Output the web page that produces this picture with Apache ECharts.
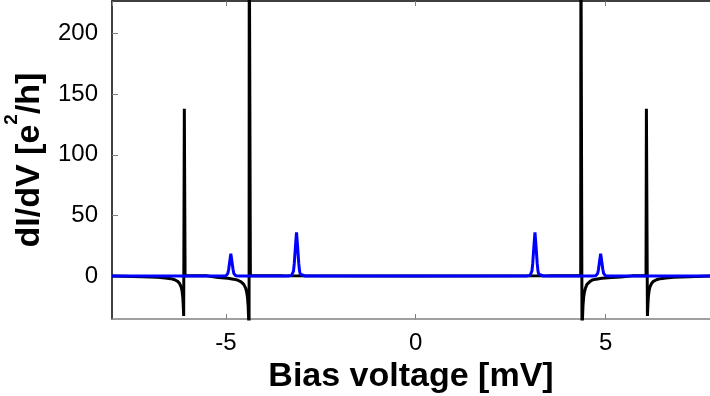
<!DOCTYPE html>
<html>
<head>
<meta charset="utf-8">
<script src="https://cdn.jsdelivr.net/npm/echarts@6/dist/echarts.min.js"></script>
<style>
html,body{margin:0;padding:0;background:#fff;overflow:hidden;}
#chart{width:710px;height:396px;}
</style>
</head>
<body>
<div id="chart"></div>
<script>
// Black curve (Fano-like spikes)
var blackX = [
  -8.0, -7.2, -6.8, -6.6, -6.45, -6.35, -6.27, -6.22, -6.18, -6.155, -6.135, -6.12, -6.112,
  -6.095, -6.085, -6.075, -6.0, -5.8, -5.5,
  -5.2, -4.95, -4.8, -4.7, -4.6, -4.53, -4.48, -4.45, -4.43, -4.415, -4.40, -4.39,
  -4.385, -4.36, -4.355, -4.2, -3.5,
  0.0,
  3.5, 4.2, 4.345, 4.35, 4.375,
  4.38, 4.39, 4.405, 4.42, 4.44, 4.47, 4.51, 4.58, 4.65, 4.75, 4.9, 5.15, 5.4,
  5.7, 5.95, 6.065, 6.075, 6.085,
  6.102, 6.11, 6.125, 6.145, 6.17, 6.21, 6.26, 6.34, 6.44, 6.59, 6.79, 7.19, 7.75
];
var blackY = [
  0, -0.7, -1.1, -1.6, -2.2, -3.1, -4.4, -6.2, -8.9, -12.3, -17.8, -26.7, -33,
  138, 138, 0.5, 0.3, 0.2, 0.1,
  -1.3, -1.9, -2.6, -3.3, -4.8, -6.9, -10, -13.8, -18.3, -24.4, -36.7, -60,
  300, 300, 0.5, 0.3, 0.1,
  0.0,
  0.1, 0.3, 0.5, 300, 300,
  -60, -36.7, -24.4, -18.3, -13.8, -10, -6.9, -4.8, -3.3, -2.6, -1.9, -1.3, -0.8,
  0.1, 0.3, 0.5, 138, 138,
  -33, -26.7, -17.8, -12.3, -8.9, -6.2, -4.4, -3.1, -2.2, -1.6, -1.1, -0.7, 0
];
// Blue curve (narrow peaks)
var blueX = [
  -8.0, -5.10, -5.00, -4.97, -4.95, -4.93, -4.91, -4.89, -4.87, -4.85, -4.83, -4.81, -4.79, -4.77, -4.74, -4.64,
  -3.36, -3.27, -3.24, -3.22, -3.20, -3.18, -3.16, -3.14, -3.12, -3.10, -3.08, -3.06, -3.04, -3.01, -2.92,
  2.92, 3.01, 3.04, 3.06, 3.08, 3.10, 3.12, 3.14, 3.16, 3.18, 3.20, 3.22, 3.24, 3.27, 3.36,
  4.64, 4.74, 4.77, 4.79, 4.81, 4.83, 4.85, 4.87, 4.89, 4.91, 4.93, 4.95, 4.97, 5.00, 5.10, 7.75
];
var blueY = [
  0, 0, 0.25, 0.75, 2, 5, 9.5, 14, 18.5, 14, 9.5, 5, 2, 0.75, 0.25, 0,
  0, 0.5, 1.5, 4, 10, 19, 28, 36, 28, 19, 10, 4, 1.5, 0.5, 0,
  0, 0.5, 1.5, 4, 10, 19, 28, 36, 28, 19, 10, 4, 1.5, 0.5, 0,
  0, 0.25, 0.75, 2, 5, 9.5, 14, 18.5, 14, 9.5, 5, 2, 0.75, 0.25, 0, 0
];
var xRange = [-8, 7.75];
var yRange = [-35.5, 227];
var xTickStep = 5;
var yTickStep = 50;

function zip(a, b) { return a.map(function (v, i) { return [v, b[i]]; }); }

var chart = echarts.init(document.getElementById('chart'), null, { renderer: 'canvas' });
var FONT = 'Liberation Sans, Arial, Helvetica, sans-serif';
chart.setOption({
  animation: false,
  backgroundColor: '#ffffff',
  grid: { left: 112, top: 1, right: 0, bottom: 77, containLabel: false, outerBoundsMode: 'none' },
  xAxis: [{
    type: 'value', min: xRange[0], max: xRange[1],
    minInterval: xTickStep, maxInterval: xTickStep,
    axisLine: { show: true, onZero: false, lineStyle: { color: '#808080', width: 1.5 } },
    axisTick: { show: true, inside: true, length: 5, lineStyle: { color: '#808080', width: 1 } },
    axisLabel: { show: true, color: '#000', fontSize: 24, fontFamily: FONT, margin: 12,
                 showMinLabel: false, showMaxLabel: false },
    splitLine: { show: false },
    name: 'Bias voltage [mV]', nameLocation: 'middle', nameGap: 26,
    nameTextStyle: { color: '#000', fontSize: 34, fontWeight: 'bold', fontFamily: FONT }
  }, {
    type: 'value', position: 'top', min: xRange[0], max: xRange[1],
    minInterval: xTickStep, maxInterval: xTickStep,
    axisLine: { show: true, onZero: false, lineStyle: { color: '#000', width: 1.5 } },
    axisTick: { show: true, inside: true, length: 5, lineStyle: { color: '#808080', width: 1 } },
    axisLabel: { show: false }, splitLine: { show: false }
  }],
  yAxis: [{
    type: 'value', min: yRange[0], max: yRange[1],
    minInterval: yTickStep, maxInterval: yTickStep,
    axisLine: { show: true, onZero: false, lineStyle: { color: '#000', width: 1.5 } },
    axisTick: { show: true, inside: true, length: 6, lineStyle: { color: '#808080', width: 1 } },
    axisLabel: { show: true, color: '#000', fontSize: 24, fontFamily: FONT, margin: 14,
                 showMinLabel: false, showMaxLabel: false },
    splitLine: { show: false },
    name: 'dI/dV [e{sup|2}/h]', nameLocation: 'middle', nameGap: 49.5, nameRotate: 90,
    nameTextStyle: {
      color: '#000', fontSize: 34, fontWeight: 'bold', fontFamily: FONT,
      rich: { sup: { fontSize: 19, fontWeight: 'bold', fontFamily: FONT, color: '#000', padding: [0, 0, 37, 0] } }
    }
  }],
  series: [{
    type: 'line', data: zip(blackX, blackY), showSymbol: false, symbol: 'none',
    lineStyle: { color: '#000', width: 3 }, clip: true, z: 2
  }, {
    type: 'line', data: zip(blueX, blueY), showSymbol: false, symbol: 'none',
    lineStyle: { color: '#0000ff', width: 3 }, clip: true, z: 3
  }]
});
</script>
</body>
</html>
